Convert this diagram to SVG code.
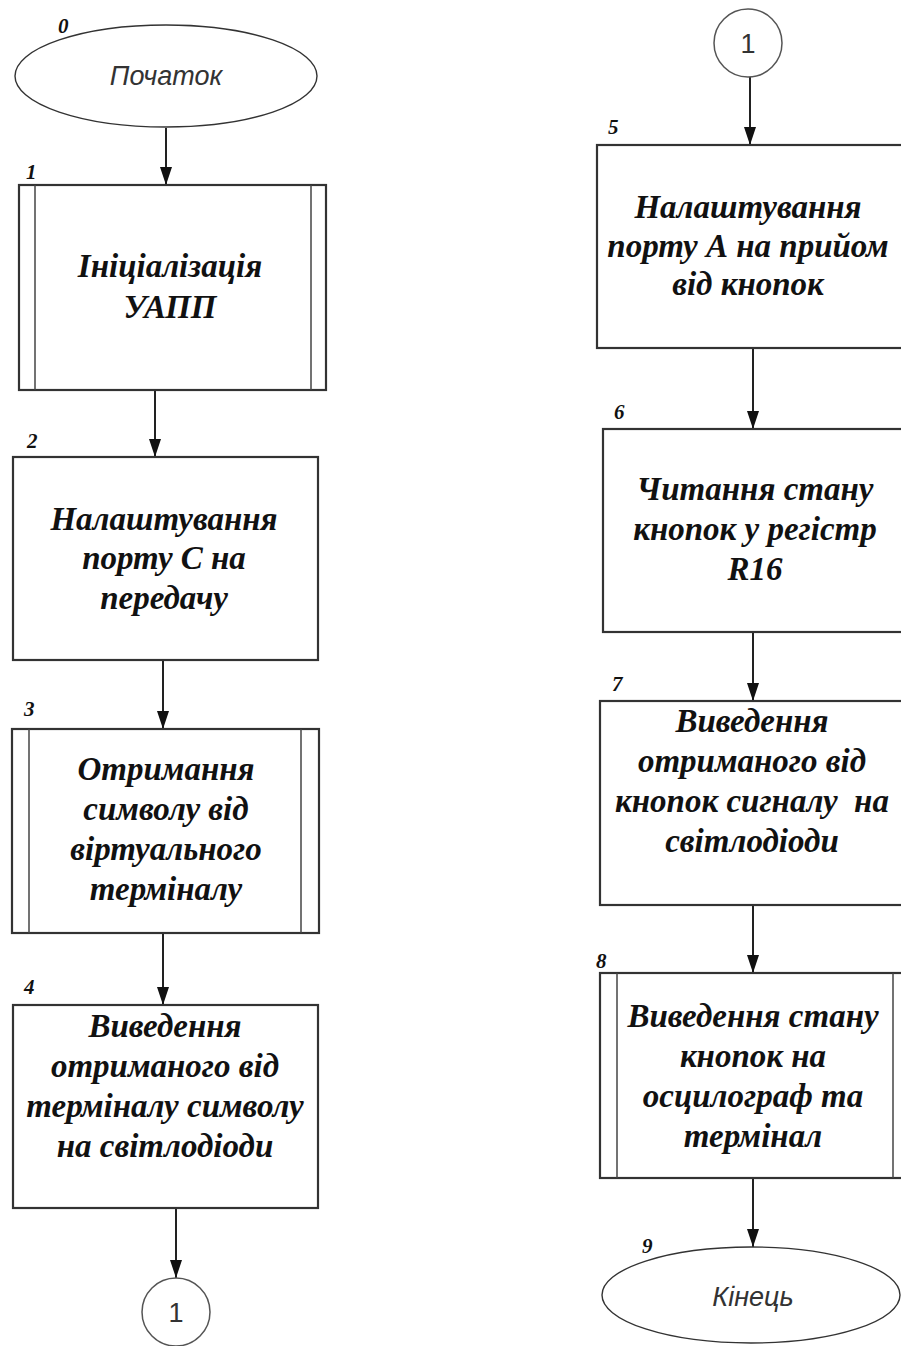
<svg xmlns="http://www.w3.org/2000/svg" width="901" height="1346" viewBox="0 0 901 1346">
<defs>
<marker id="arr" viewBox="0 0 18 12" refX="18" refY="6" markerWidth="18" markerHeight="12" orient="auto" markerUnits="userSpaceOnUse">
<path d="M0,0 L18,6 L0,12 z" fill="#111"/>
</marker>
<style>
.box{fill:#fff;stroke:#333;stroke-width:2.2}
.inner{stroke:#444;stroke-width:1.5;fill:none}
.term{fill:#fff;stroke:#333;stroke-width:1.4}
.conn{fill:#fff;stroke:#555;stroke-width:1.5}
.t{font-family:"Liberation Serif","Times New Roman",serif;font-weight:bold;font-style:italic;font-size:33px;fill:#111;text-anchor:middle}
.s{font-family:"Liberation Sans",Arial,sans-serif;font-style:italic;font-size:27px;fill:#333;text-anchor:middle}
.c{font-family:"Liberation Sans",Arial,sans-serif;font-size:27px;fill:#333;text-anchor:middle}
.n{font-family:"Liberation Serif","Times New Roman",serif;font-weight:bold;font-style:italic;font-size:21px;fill:#111}
.ln{stroke:#222;stroke-width:2;fill:none}
</style>
</defs>
<rect width="901" height="1346" fill="#fff"/>

<g id="connectors">
<line class="ln" x1="166" y1="128" x2="166" y2="185" marker-end="url(#arr)"/>
<line class="ln" x1="155" y1="390" x2="155" y2="457" marker-end="url(#arr)"/>
<line class="ln" x1="163" y1="660" x2="163" y2="729" marker-end="url(#arr)"/>
<line class="ln" x1="163" y1="933" x2="163" y2="1005" marker-end="url(#arr)"/>
<line class="ln" x1="176" y1="1208" x2="176" y2="1278" marker-end="url(#arr)"/>
<line class="ln" x1="750" y1="77" x2="750" y2="145" marker-end="url(#arr)"/>
<line class="ln" x1="753" y1="348" x2="753" y2="429" marker-end="url(#arr)"/>
<line class="ln" x1="753" y1="632" x2="753" y2="701" marker-end="url(#arr)"/>
<line class="ln" x1="753" y1="905" x2="753" y2="973" marker-end="url(#arr)"/>
<line class="ln" x1="753" y1="1178" x2="753" y2="1247" marker-end="url(#arr)"/>
</g>

<g id="n0">
<ellipse class="term" cx="166" cy="76" rx="151" ry="51"/>
<text class="s" x="166" y="85">Початок</text>
<text class="n" x="58" y="33">0</text>
</g>

<g id="n1">
<rect class="box" x="19" y="185" width="307" height="205"/>
<line class="inner" x1="35" y1="185" x2="35" y2="390"/>
<line class="inner" x1="311" y1="185" x2="311" y2="390"/>
<text class="t" x="170" y="277">Ініціалізація</text>
<text class="t" x="170" y="318">УАПП</text>
<text class="n" x="26" y="179">1</text>
</g>

<g id="n2">
<rect class="box" x="13" y="457" width="305" height="203"/>
<text class="t" x="164" y="530">Налаштування</text>
<text class="t" x="164" y="569">порту С на</text>
<text class="t" x="164" y="609">передачу</text>
<text class="n" x="27" y="448">2</text>
</g>

<g id="n3">
<rect class="box" x="12" y="729" width="307" height="204"/>
<line class="inner" x1="29" y1="729" x2="29" y2="933"/>
<line class="inner" x1="301" y1="729" x2="301" y2="933"/>
<text class="t" x="166" y="780">Отримання</text>
<text class="t" x="166" y="820">символу від</text>
<text class="t" x="166" y="860">віртуального</text>
<text class="t" x="166" y="900">терміналу</text>
<text class="n" x="24" y="716">3</text>
</g>

<g id="n4">
<rect class="box" x="13" y="1005" width="305" height="203"/>
<text class="t" x="165" y="1037">Виведення</text>
<text class="t" x="165" y="1077">отриманого від</text>
<text class="t" x="165" y="1117">терміналу символу</text>
<text class="t" x="165" y="1157">на світлодіоди</text>
<text class="n" x="24" y="994">4</text>
</g>

<g id="c1">
<circle class="conn" cx="176" cy="1312" r="34"/>
<text class="c" x="176" y="1322">1</text>
</g>

<g id="c1b">
<circle class="conn" cx="748" cy="43" r="34"/>
<text class="c" x="748" y="53">1</text>
</g>

<g id="n5">
<rect class="box" x="597" y="145" width="309" height="203"/>
<text class="t" x="748" y="218">Налаштування</text>
<text class="t" x="748" y="257">порту А на прийом</text>
<text class="t" x="748" y="295">від кнопок</text>
<text class="n" x="608" y="134">5</text>
</g>

<g id="n6">
<rect class="box" x="603" y="429" width="303" height="203"/>
<text class="t" x="755" y="500">Читання стану</text>
<text class="t" x="755" y="540">кнопок у регістр</text>
<text class="t" x="755" y="580">R16</text>
<text class="n" x="614" y="419">6</text>
</g>

<g id="n7">
<rect class="box" x="600" y="701" width="306" height="204"/>
<text class="t" x="752" y="732">Виведення</text>
<text class="t" x="752" y="772">отриманого від</text>
<text class="t" x="752" y="812" xml:space="preserve">кнопок сигналу  на</text>
<text class="t" x="752" y="852">світлодіоди</text>
<text class="n" x="612" y="691">7</text>
</g>

<g id="n8">
<rect class="box" x="600" y="973" width="306" height="205"/>
<line class="inner" x1="617" y1="973" x2="617" y2="1178"/>
<line class="inner" x1="893" y1="973" x2="893" y2="1178"/>
<text class="t" x="753" y="1027">Виведення стану</text>
<text class="t" x="753" y="1067">кнопок на</text>
<text class="t" x="753" y="1107">осцилограф та</text>
<text class="t" x="753" y="1147">термінал</text>
<text class="n" x="596" y="968">8</text>
</g>

<g id="n9">
<ellipse class="term" cx="751" cy="1295" rx="149" ry="48"/>
<text class="s" x="753" y="1306">Кінець</text>
<text class="n" x="642" y="1253">9</text>
</g>
</svg>
